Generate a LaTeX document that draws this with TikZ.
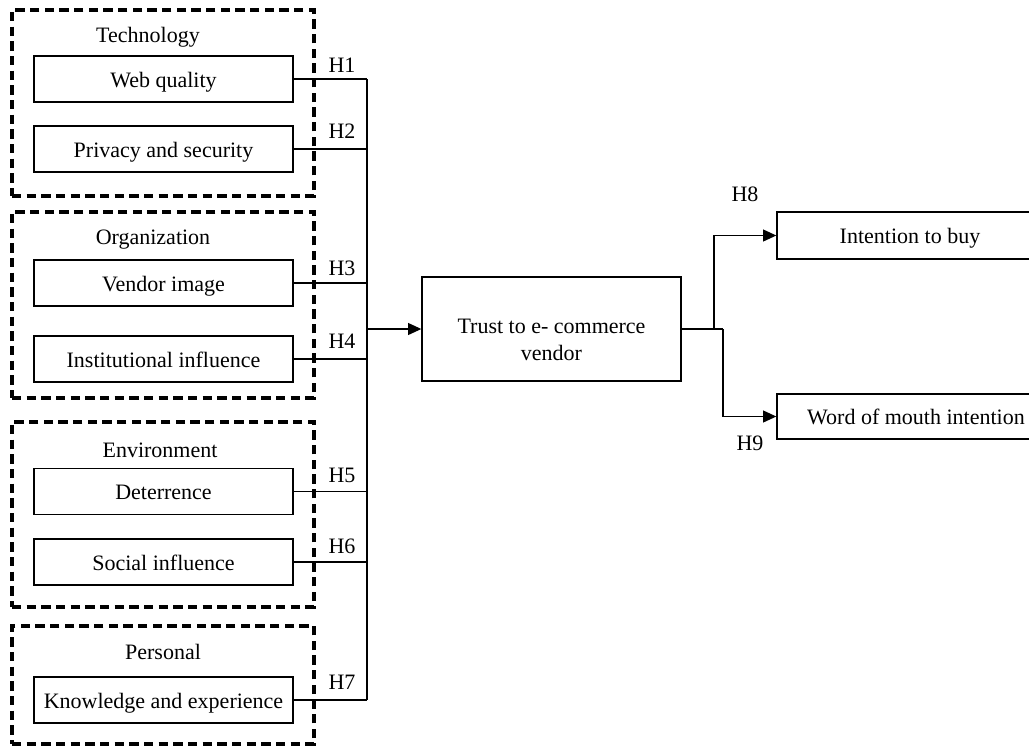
\documentclass[tikz,border=0pt]{standalone}
\usepackage{fontspec}
\setmainfont{Liberation Serif}
\usetikzlibrary{arrows.meta}
\begin{document}
\begin{tikzpicture}[x=0.75pt,y=-0.75pt,
 txt/.style={font=\fontsize{16.5}{20}\selectfont},
 box/.style={draw,line width=1pt,inner sep=0pt,txt,minimum width=194.25pt,minimum height=34.5pt,text height=13.5pt,text depth=1pt},
 grp/.style={draw,line width=2.6pt,dash pattern=on 7pt off 4pt,inner sep=0pt,minimum width=226.5pt},
 conn/.style={line width=1pt},
 arr/.style={line width=1pt,-{Triangle[length=10pt,width=9pt]}}]
\useasboundingbox (0,0) rectangle (1029,747);
\clip (0,0) rectangle (1029,747);
% group frames
\node[grp,minimum height=139.5pt] (gtech) at (163,103) {};
\node[grp,minimum height=139.5pt] (gorg) at (163,305) {};
\node[grp,minimum height=138.75pt] (genv) at (163,514.5) {};
\node[grp,minimum height=88.5pt] (gper) at (163,685) {};
% group titles
\node[txt] (ttech) at (148,37) {Technology};
\node[txt] (torg) at (153,240) {Organization};
\node[txt] (tenv) at (160,450) {Environment};
\node[txt] (tper) at (163,652) {Personal};
% factor boxes
\node[box] (web) at (163.5,79) {Web quality};
\node[box] (priv) at (163.5,149) {Privacy and security};
\node[box] (vend) at (163.5,283) {Vendor image};
\node[box] (inst) at (163.5,359) {Institutional influence};
\node[box] (det) at (163.5,491.5) {Deterrence};
\node[box] (soc) at (163.5,562) {Social influence};
\node[box] (know) at (163.5,700) {Knowledge and experience};
% central and outcome boxes
\node[draw,line width=1pt,minimum width=194.25pt,minimum height=78pt,inner sep=0pt,
  label={[txt,align=center,yshift=-8pt]center:Trust to e- commerce\\vendor}] (trust) at (551.5,329) {};
\node[box,minimum width=199.5pt,minimum height=35.25pt] (buy) at (910,235.5) {Intention to buy};
\node[box,minimum width=208.5pt,minimum height=33.75pt] (wom) at (916,416.5) {Word of mouth intention};
% bus
\coordinate (bt) at (367,79);
\coordinate (bb) at (367,700);
\draw[conn] (web.east) -- (web.east -| bt);
\draw[conn] (priv.east) -- (priv.east -| bt);
\draw[conn] (vend.east) -- (vend.east -| bt);
\draw[conn] (inst.east) -- (inst.east -| bt);
\draw[conn] (det.east) -- (det.east -| bt);
\draw[conn] (soc.east) -- (soc.east -| bt);
\draw[conn] (know.east) -- (know.east -| bt);
\draw[conn] (bt) -- (bb);
\draw[arr] (trust.west -| bt) -- (trust.west);
% outputs
\coordinate (s1) at (714,329);
\coordinate (s2) at (723,329);
\draw[conn] (trust.east) -- (s2);
\draw[arr] (s1) |- (buy.west);
\draw[arr] (s2) |- (wom.west);
% hypothesis labels
\node[txt] (h1) at (342,65) {H1};
\node[txt] (h2) at (342,131) {H2};
\node[txt] (h3) at (342,268) {H3};
\node[txt] (h4) at (342,341) {H4};
\node[txt] (h5) at (342,475) {H5};
\node[txt] (h6) at (342,546) {H6};
\node[txt] (h7) at (342,682) {H7};
\node[txt] (h8) at (745,194) {H8};
\node[txt] (h9) at (750,443) {H9};
\end{tikzpicture}
\end{document}
